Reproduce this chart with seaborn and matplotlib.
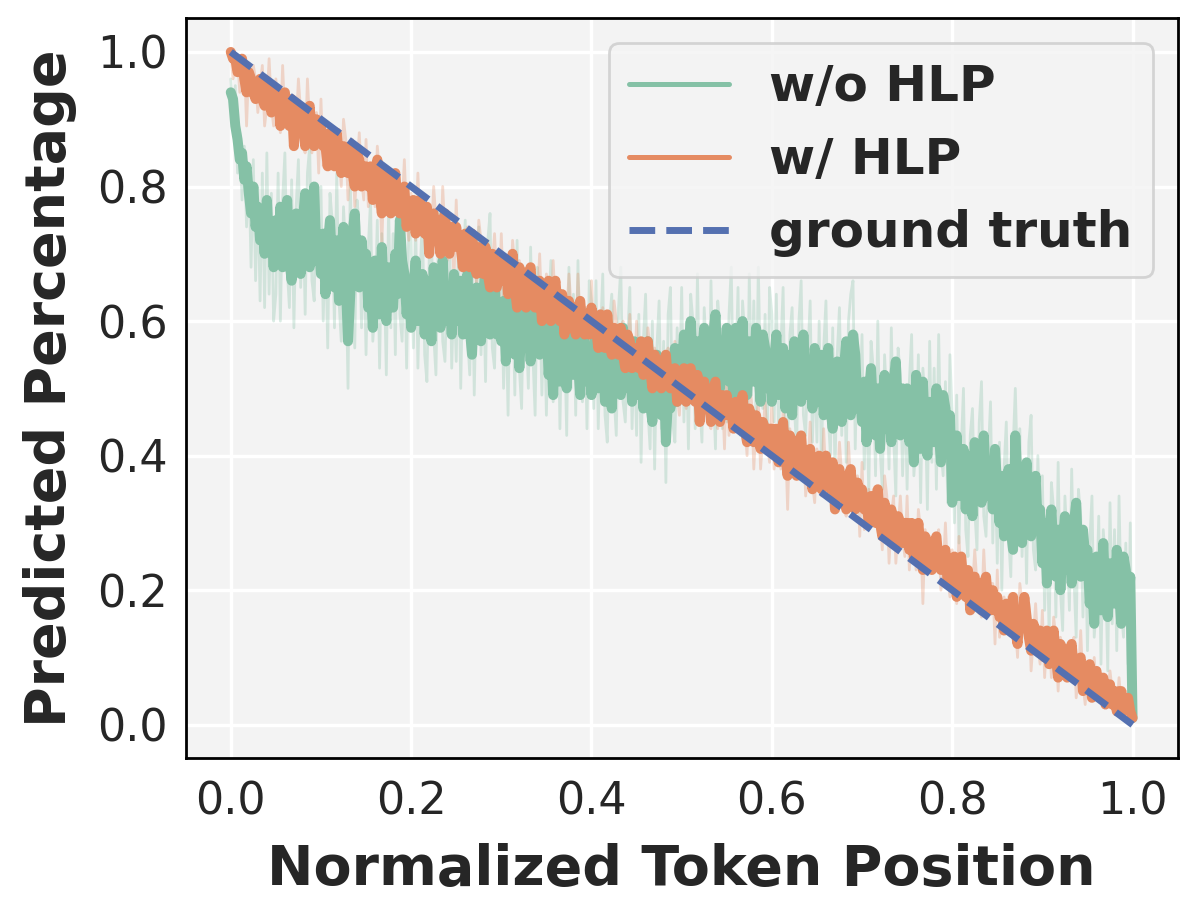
import numpy as np
import seaborn as sns
import matplotlib
matplotlib.use("Agg")
import matplotlib.pyplot as plt
from matplotlib.lines import Line2D

# predicted percentage per normalized token position (401 samples, step 0.0025)
wo_hlp_smooth = [
    0.94, 0.93, 0.89, 0.87, 0.84, 0.85, 0.81, 0.83, 0.79, 0.76, 0.80, 0.74, 0.77, 0.72, 0.75, 0.70, 0.78, 0.71, 0.74, 0.68,
    0.75, 0.70, 0.77, 0.68, 0.73, 0.78, 0.69, 0.66, 0.74, 0.76, 0.71, 0.67, 0.75, 0.79, 0.70, 0.68, 0.73, 0.80, 0.69, 0.72,
    0.67, 0.73, 0.64, 0.71, 0.75, 0.68, 0.65, 0.72, 0.63, 0.70, 0.74, 0.66, 0.57, 0.64, 0.73, 0.76, 0.67, 0.65, 0.72, 0.68,
    0.70, 0.62, 0.66, 0.59, 0.69, 0.67, 0.61, 0.71, 0.63, 0.60, 0.68, 0.65, 0.62, 0.70, 0.64, 0.75, 0.69, 0.67, 0.61, 0.66,
    0.59, 0.65, 0.69, 0.60, 0.62, 0.67, 0.58, 0.66, 0.64, 0.57, 0.68, 0.61, 0.66, 0.59, 0.69, 0.62, 0.60, 0.65, 0.58, 0.67,
    0.64, 0.60, 0.66, 0.58, 0.62, 0.67, 0.59, 0.55, 0.63, 0.65, 0.60, 0.57, 0.64, 0.68, 0.59, 0.58, 0.62, 0.66, 0.58, 0.61,
    0.57, 0.63, 0.54, 0.61, 0.65, 0.58, 0.55, 0.62, 0.53, 0.60, 0.64, 0.56, 0.61, 0.54, 0.63, 0.66, 0.57, 0.55, 0.62, 0.58,
    0.60, 0.52, 0.57, 0.49, 0.60, 0.57, 0.51, 0.61, 0.53, 0.50, 0.58, 0.55, 0.52, 0.60, 0.54, 0.49, 0.59, 0.57, 0.51, 0.56,
    0.49, 0.55, 0.59, 0.50, 0.52, 0.57, 0.48, 0.56, 0.54, 0.47, 0.58, 0.51, 0.56, 0.49, 0.59, 0.52, 0.50, 0.55, 0.48, 0.57,
    0.54, 0.49, 0.56, 0.47, 0.52, 0.57, 0.48, 0.45, 0.53, 0.55, 0.50, 0.46, 0.54, 0.42, 0.49, 0.47, 0.52, 0.56, 0.48, 0.51,
    0.52, 0.58, 0.49, 0.56, 0.60, 0.53, 0.50, 0.57, 0.48, 0.55, 0.59, 0.51, 0.56, 0.49, 0.58, 0.61, 0.52, 0.50, 0.57, 0.53,
    0.59, 0.51, 0.55, 0.48, 0.59, 0.56, 0.50, 0.60, 0.52, 0.49, 0.57, 0.54, 0.51, 0.59, 0.53, 0.48, 0.58, 0.56, 0.50, 0.55,
    0.48, 0.54, 0.58, 0.49, 0.51, 0.56, 0.47, 0.55, 0.53, 0.46, 0.57, 0.50, 0.55, 0.48, 0.58, 0.51, 0.49, 0.54, 0.47, 0.56,
    0.53, 0.48, 0.55, 0.46, 0.51, 0.56, 0.47, 0.44, 0.52, 0.54, 0.49, 0.45, 0.53, 0.57, 0.48, 0.46, 0.58, 0.55, 0.47, 0.50,
    0.45, 0.51, 0.42, 0.49, 0.53, 0.46, 0.43, 0.50, 0.41, 0.48, 0.52, 0.44, 0.49, 0.42, 0.51, 0.54, 0.45, 0.43, 0.50, 0.46,
    0.50, 0.42, 0.46, 0.39, 0.52, 0.47, 0.41, 0.51, 0.43, 0.40, 0.48, 0.45, 0.42, 0.50, 0.44, 0.39, 0.49, 0.47, 0.41, 0.46,
    0.33, 0.39, 0.43, 0.34, 0.36, 0.41, 0.32, 0.40, 0.38, 0.31, 0.42, 0.35, 0.40, 0.33, 0.43, 0.36, 0.34, 0.39, 0.32, 0.41,
    0.35, 0.30, 0.37, 0.28, 0.33, 0.38, 0.29, 0.26, 0.43, 0.36, 0.31, 0.27, 0.35, 0.39, 0.30, 0.28, 0.33, 0.37, 0.29, 0.32,
    0.24, 0.30, 0.21, 0.28, 0.32, 0.25, 0.22, 0.29, 0.20, 0.27, 0.31, 0.23, 0.28, 0.21, 0.30, 0.33, 0.24, 0.22, 0.29, 0.25,
    0.26, 0.18, 0.22, 0.15, 0.25, 0.23, 0.17, 0.27, 0.19, 0.16, 0.24, 0.21, 0.18, 0.26, 0.20, 0.15, 0.25, 0.23, 0.17, 0.22,
    0.01,
]

wo_hlp_raw = [
    0.96, 0.90, 0.95, 0.82, 0.88, 0.78, 0.86, 0.74, 0.83, 0.68, 0.84, 0.66, 0.80, 0.63, 0.82, 0.62, 0.85, 0.64, 0.79, 0.60,
    0.64, 0.82, 0.60, 0.78, 0.85, 0.68, 0.62, 0.81, 0.59, 0.77, 0.84, 0.65, 0.78, 0.61, 0.82, 0.86, 0.66, 0.63, 0.80, 0.69,
    0.80, 0.60, 0.73, 0.56, 0.79, 0.75, 0.59, 0.82, 0.63, 0.57, 0.77, 0.70, 0.50, 0.81, 0.65, 0.56, 0.78, 0.74, 0.59, 0.72,
    0.55, 0.71, 0.78, 0.57, 0.62, 0.75, 0.53, 0.73, 0.68, 0.52, 0.77, 0.59, 0.73, 0.55, 0.81, 0.61, 0.57, 0.71, 0.53, 0.75,
    0.72, 0.56, 0.75, 0.53, 0.67, 0.76, 0.55, 0.51, 0.69, 0.73, 0.58, 0.52, 0.71, 0.77, 0.57, 0.54, 0.66, 0.74, 0.53, 0.65,
    0.54, 0.72, 0.50, 0.68, 0.75, 0.58, 0.52, 0.71, 0.49, 0.67, 0.74, 0.55, 0.68, 0.51, 0.72, 0.76, 0.56, 0.53, 0.70, 0.59,
    0.70, 0.50, 0.63, 0.46, 0.69, 0.65, 0.49, 0.72, 0.53, 0.47, 0.67, 0.60, 0.50, 0.71, 0.55, 0.46, 0.68, 0.64, 0.49, 0.62,
    0.46, 0.62, 0.69, 0.48, 0.53, 0.66, 0.44, 0.64, 0.59, 0.43, 0.68, 0.50, 0.64, 0.46, 0.69, 0.52, 0.48, 0.62, 0.44, 0.66,
    0.63, 0.47, 0.66, 0.44, 0.58, 0.67, 0.46, 0.42, 0.60, 0.64, 0.49, 0.43, 0.62, 0.68, 0.48, 0.45, 0.57, 0.65, 0.44, 0.56,
    0.43, 0.61, 0.39, 0.57, 0.64, 0.47, 0.41, 0.60, 0.38, 0.56, 0.63, 0.44, 0.57, 0.36, 0.61, 0.65, 0.45, 0.42, 0.59, 0.48,
    0.65, 0.45, 0.58, 0.41, 0.64, 0.60, 0.44, 0.67, 0.48, 0.42, 0.62, 0.55, 0.45, 0.66, 0.50, 0.41, 0.63, 0.59, 0.44, 0.57,
    0.45, 0.61, 0.68, 0.47, 0.52, 0.65, 0.43, 0.63, 0.58, 0.42, 0.67, 0.49, 0.63, 0.45, 0.68, 0.51, 0.47, 0.61, 0.43, 0.65,
    0.61, 0.45, 0.64, 0.42, 0.56, 0.65, 0.44, 0.40, 0.58, 0.62, 0.47, 0.41, 0.60, 0.66, 0.46, 0.43, 0.55, 0.63, 0.42, 0.54,
    0.42, 0.60, 0.38, 0.56, 0.63, 0.46, 0.40, 0.59, 0.37, 0.55, 0.62, 0.43, 0.56, 0.39, 0.60, 0.64, 0.66, 0.41, 0.58, 0.47,
    0.58, 0.38, 0.51, 0.34, 0.57, 0.53, 0.37, 0.60, 0.41, 0.35, 0.55, 0.48, 0.38, 0.59, 0.43, 0.34, 0.56, 0.52, 0.37, 0.50,
    0.35, 0.51, 0.58, 0.37, 0.42, 0.55, 0.33, 0.53, 0.48, 0.32, 0.57, 0.39, 0.53, 0.35, 0.58, 0.41, 0.37, 0.51, 0.33, 0.55,
    0.46, 0.30, 0.49, 0.27, 0.41, 0.50, 0.29, 0.25, 0.43, 0.47, 0.32, 0.26, 0.45, 0.51, 0.31, 0.28, 0.40, 0.48, 0.27, 0.39,
    0.24, 0.42, 0.20, 0.38, 0.45, 0.28, 0.22, 0.41, 0.50, 0.37, 0.44, 0.25, 0.38, 0.21, 0.42, 0.46, 0.26, 0.23, 0.40, 0.29,
    0.37, 0.17, 0.30, 0.13, 0.36, 0.32, 0.16, 0.39, 0.20, 0.14, 0.34, 0.27, 0.17, 0.38, 0.22, 0.13, 0.35, 0.31, 0.16, 0.29,
    0.11, 0.27, 0.34, 0.13, 0.18, 0.31, 0.09, 0.29, 0.24, 0.08, 0.33, 0.15, 0.29, 0.11, 0.34, 0.17, 0.13, 0.27, 0.09, 0.30,
    0.01,
]

w_hlp_smooth = [
    1.00, 0.99, 0.99, 0.97, 0.98, 0.99, 0.96, 0.94, 0.97, 0.96, 0.94, 0.93, 0.95, 0.96, 0.93, 0.92, 0.94, 0.95, 0.91, 0.94,
    0.92, 0.94, 0.89, 0.93, 0.94, 0.90, 0.89, 0.93, 0.86, 0.91, 0.92, 0.88, 0.90, 0.86, 0.91, 0.92, 0.87, 0.86, 0.90, 0.87,
    0.89, 0.86, 0.86, 0.83, 0.88, 0.87, 0.83, 0.88, 0.84, 0.82, 0.86, 0.84, 0.82, 0.86, 0.82, 0.80, 0.85, 0.84, 0.80, 0.83,
    0.83, 0.80, 0.83, 0.78, 0.81, 0.84, 0.79, 0.76, 0.82, 0.81, 0.77, 0.76, 0.81, 0.82, 0.77, 0.76, 0.79, 0.80, 0.74, 0.77,
    0.75, 0.78, 0.73, 0.77, 0.78, 0.74, 0.73, 0.77, 0.70, 0.75, 0.76, 0.72, 0.74, 0.70, 0.75, 0.76, 0.71, 0.70, 0.74, 0.71,
    0.74, 0.71, 0.71, 0.68, 0.73, 0.72, 0.68, 0.73, 0.69, 0.67, 0.71, 0.69, 0.67, 0.71, 0.67, 0.65, 0.70, 0.69, 0.65, 0.68,
    0.69, 0.66, 0.69, 0.64, 0.67, 0.70, 0.65, 0.62, 0.68, 0.67, 0.63, 0.62, 0.67, 0.68, 0.63, 0.62, 0.65, 0.66, 0.60, 0.63,
    0.63, 0.66, 0.60, 0.64, 0.66, 0.62, 0.60, 0.64, 0.58, 0.63, 0.63, 0.59, 0.62, 0.58, 0.62, 0.63, 0.59, 0.58, 0.61, 0.58,
    0.62, 0.59, 0.59, 0.56, 0.61, 0.60, 0.56, 0.61, 0.57, 0.55, 0.59, 0.57, 0.55, 0.59, 0.55, 0.53, 0.58, 0.57, 0.53, 0.56,
    0.56, 0.53, 0.57, 0.52, 0.54, 0.57, 0.53, 0.50, 0.55, 0.54, 0.51, 0.50, 0.54, 0.55, 0.51, 0.50, 0.52, 0.53, 0.48, 0.51,
    0.50, 0.53, 0.48, 0.52, 0.53, 0.49, 0.48, 0.52, 0.45, 0.50, 0.51, 0.47, 0.49, 0.45, 0.50, 0.51, 0.46, 0.45, 0.49, 0.46,
    0.49, 0.46, 0.47, 0.44, 0.48, 0.47, 0.44, 0.49, 0.44, 0.42, 0.47, 0.45, 0.42, 0.46, 0.43, 0.41, 0.45, 0.44, 0.41, 0.44,
    0.44, 0.41, 0.44, 0.39, 0.42, 0.45, 0.40, 0.37, 0.43, 0.42, 0.38, 0.37, 0.42, 0.43, 0.38, 0.37, 0.40, 0.41, 0.35, 0.38,
    0.37, 0.40, 0.35, 0.39, 0.40, 0.36, 0.35, 0.39, 0.32, 0.37, 0.38, 0.34, 0.36, 0.32, 0.37, 0.38, 0.33, 0.32, 0.36, 0.33,
    0.35, 0.32, 0.33, 0.30, 0.34, 0.33, 0.30, 0.35, 0.30, 0.28, 0.33, 0.31, 0.28, 0.32, 0.29, 0.27, 0.31, 0.30, 0.27, 0.30,
    0.30, 0.26, 0.30, 0.25, 0.27, 0.30, 0.26, 0.23, 0.28, 0.27, 0.24, 0.23, 0.27, 0.28, 0.24, 0.23, 0.25, 0.26, 0.21, 0.24,
    0.22, 0.25, 0.19, 0.23, 0.25, 0.21, 0.19, 0.23, 0.17, 0.22, 0.22, 0.18, 0.21, 0.17, 0.21, 0.22, 0.18, 0.17, 0.20, 0.17,
    0.19, 0.16, 0.17, 0.14, 0.18, 0.17, 0.14, 0.19, 0.14, 0.12, 0.17, 0.15, 0.19, 0.16, 0.13, 0.11, 0.15, 0.14, 0.11, 0.14,
    0.13, 0.10, 0.14, 0.09, 0.11, 0.14, 0.10, 0.07, 0.12, 0.11, 0.08, 0.07, 0.11, 0.12, 0.08, 0.07, 0.09, 0.10, 0.05, 0.08,
    0.06, 0.09, 0.04, 0.07, 0.08, 0.05, 0.04, 0.07, 0.03, 0.06, 0.06, 0.03, 0.05, 0.02, 0.05, 0.05, 0.02, 0.03, 0.04, 0.02,
    0.01,
]

w_hlp_raw = [
    1.00, 0.96, 0.98, 0.99, 0.94, 0.99, 0.99, 0.89, 0.98, 0.94, 0.98, 0.96, 0.91, 0.95, 0.98, 0.89, 0.92, 0.99, 0.92, 0.89,
    0.96, 0.91, 0.88, 0.98, 0.90, 0.92, 0.92, 0.88, 0.87, 0.89, 0.96, 0.91, 0.86, 0.85, 0.96, 0.89, 0.85, 0.90, 0.91, 0.82,
    0.93, 0.83, 0.85, 0.88, 0.84, 0.89, 0.86, 0.83, 0.85, 0.80, 0.90, 0.87, 0.78, 0.85, 0.87, 0.77, 0.83, 0.88, 0.81, 0.78,
    0.87, 0.77, 0.82, 0.83, 0.77, 0.86, 0.82, 0.71, 0.83, 0.79, 0.81, 0.79, 0.77, 0.81, 0.82, 0.73, 0.77, 0.84, 0.75, 0.72,
    0.79, 0.75, 0.72, 0.82, 0.74, 0.76, 0.76, 0.72, 0.71, 0.73, 0.80, 0.75, 0.70, 0.69, 0.80, 0.73, 0.69, 0.74, 0.75, 0.66,
    0.78, 0.68, 0.70, 0.73, 0.69, 0.74, 0.71, 0.68, 0.70, 0.65, 0.75, 0.72, 0.63, 0.70, 0.72, 0.62, 0.68, 0.73, 0.66, 0.63,
    0.73, 0.63, 0.68, 0.69, 0.63, 0.72, 0.68, 0.57, 0.69, 0.65, 0.67, 0.65, 0.63, 0.67, 0.68, 0.59, 0.63, 0.70, 0.61, 0.58,
    0.67, 0.63, 0.59, 0.69, 0.62, 0.64, 0.63, 0.59, 0.59, 0.61, 0.67, 0.62, 0.58, 0.57, 0.67, 0.60, 0.57, 0.62, 0.62, 0.53,
    0.66, 0.56, 0.58, 0.61, 0.57, 0.62, 0.59, 0.56, 0.58, 0.53, 0.63, 0.60, 0.51, 0.58, 0.60, 0.50, 0.56, 0.61, 0.54, 0.51,
    0.60, 0.50, 0.56, 0.57, 0.50, 0.59, 0.56, 0.45, 0.56, 0.52, 0.55, 0.53, 0.50, 0.54, 0.56, 0.47, 0.50, 0.57, 0.49, 0.46,
    0.54, 0.50, 0.47, 0.57, 0.49, 0.51, 0.51, 0.47, 0.46, 0.48, 0.55, 0.50, 0.45, 0.44, 0.55, 0.48, 0.44, 0.49, 0.50, 0.41,
    0.53, 0.43, 0.46, 0.49, 0.44, 0.49, 0.47, 0.44, 0.45, 0.40, 0.51, 0.48, 0.38, 0.45, 0.48, 0.38, 0.43, 0.48, 0.42, 0.39,
    0.48, 0.38, 0.43, 0.44, 0.38, 0.47, 0.43, 0.32, 0.44, 0.40, 0.42, 0.40, 0.38, 0.42, 0.43, 0.34, 0.38, 0.45, 0.36, 0.33,
    0.41, 0.37, 0.34, 0.44, 0.36, 0.38, 0.38, 0.34, 0.33, 0.35, 0.42, 0.37, 0.32, 0.31, 0.42, 0.35, 0.31, 0.36, 0.37, 0.28,
    0.39, 0.29, 0.32, 0.35, 0.30, 0.35, 0.33, 0.30, 0.31, 0.26, 0.37, 0.34, 0.24, 0.31, 0.34, 0.24, 0.29, 0.34, 0.28, 0.25,
    0.34, 0.23, 0.29, 0.30, 0.23, 0.32, 0.29, 0.18, 0.29, 0.25, 0.28, 0.26, 0.23, 0.27, 0.29, 0.20, 0.23, 0.30, 0.22, 0.19,
    0.26, 0.22, 0.18, 0.28, 0.21, 0.23, 0.22, 0.18, 0.18, 0.20, 0.26, 0.21, 0.17, 0.16, 0.26, 0.19, 0.16, 0.21, 0.21, 0.12,
    0.23, 0.13, 0.16, 0.19, 0.14, 0.19, 0.17, 0.14, 0.15, 0.10, 0.21, 0.18, 0.15, 0.15, 0.18, 0.08, 0.13, 0.18, 0.12, 0.09,
    0.17, 0.07, 0.13, 0.14, 0.07, 0.16, 0.13, 0.05, 0.13, 0.09, 0.12, 0.10, 0.07, 0.11, 0.13, 0.04, 0.07, 0.14, 0.06, 0.03,
    0.09, 0.07, 0.04, 0.10, 0.05, 0.06, 0.06, 0.04, 0.03, 0.05, 0.08, 0.05, 0.03, 0.02, 0.07, 0.03, 0.01, 0.05, 0.04, 0.01,
    0.01,
]

truth_pos = [0.0, 1.0]
truth_val = [1.0, 0.0]

labels = ["w/o HLP", "w/ HLP", "ground truth"]
colors = ["#85c1a6", "#e58b62", "#5470b0"]

sns.set_theme(style="darkgrid", rc={
    "axes.facecolor": "#f3f3f3",
    "axes.edgecolor": "black",
    "axes.linewidth": 1.0,
    "grid.color": "white",
    "grid.linewidth": 1.2,
})

fig, ax = plt.subplots(figsize=(5.99, 4.585), dpi=200)
fig.subplots_adjust(left=0.155, right=0.983, top=0.980, bottom=0.173)


def pos(vals):
    return np.linspace(0, 1, len(vals))


sns.lineplot(x=pos(wo_hlp_raw), y=wo_hlp_raw, color=colors[0], alpha=0.3, lw=1.0, ax=ax, estimator=None)
sns.lineplot(x=pos(w_hlp_raw), y=w_hlp_raw, color=colors[1], alpha=0.3, lw=1.0, ax=ax, estimator=None)
sns.lineplot(x=pos(wo_hlp_smooth), y=wo_hlp_smooth, color=colors[0], lw=3.6, ax=ax, estimator=None)
sns.lineplot(x=pos(w_hlp_smooth), y=w_hlp_smooth, color=colors[1], lw=3.6, ax=ax, estimator=None)
sns.lineplot(x=truth_pos, y=truth_val, color=colors[2], lw=2.5, linestyle="--", ax=ax, estimator=None)

ax.set_xticks([0.0, 0.2, 0.4, 0.6, 0.8, 1.0])
ax.set_yticks([0.0, 0.2, 0.4, 0.6, 0.8, 1.0])
ax.tick_params(labelsize=16, length=0)
ax.tick_params(axis="x", pad=8)
ax.tick_params(axis="y", pad=6.5)
ax.set_xlabel("Normalized Token Position", fontsize=20, fontweight="bold", labelpad=7)
ax.set_ylabel("Predicted Percentage", fontsize=20, fontweight="bold", labelpad=7)

handles = [
    Line2D([], [], color=colors[0], lw=1.8),
    Line2D([], [], color=colors[1], lw=1.8),
    Line2D([], [], color=colors[2], lw=2.5, linestyle="--"),
]
ax.legend(handles, labels, loc="upper right", prop={"size": 18, "weight": "bold"},
          facecolor="#f3f3f3", labelspacing=0.5)

fig.savefig("out.png", dpi=200)
